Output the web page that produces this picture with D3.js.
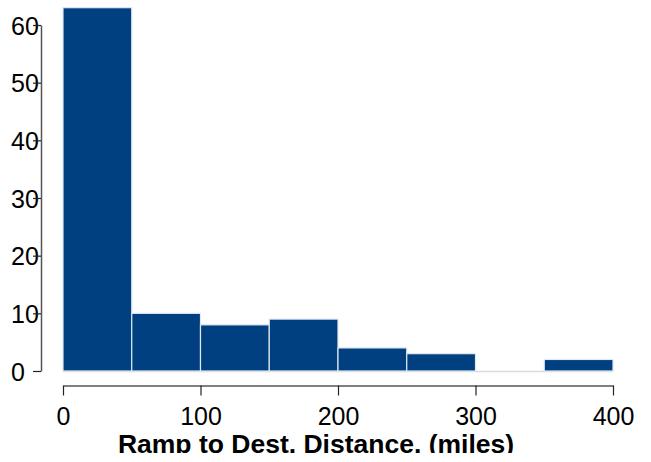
<!DOCTYPE html>
<html><head><meta charset="utf-8">
<script src="https://cdn.jsdelivr.net/npm/d3@7"></script>
<style>body{margin:0;background:#fff}svg{display:block}</style>
</head><body>
<script>
const binStarts = [0, 50, 100, 150, 200, 250, 300, 350];
const binWidth = 50;
const counts = [63, 10, 8, 9, 4, 3, 0, 2];
const xTicks = [0, 100, 200, 300, 400];
const yTicks = [0, 10, 20, 30, 40, 50, 60];
const xTitle = "Ramp to Dest. Distance. (miles)";

const W = 651, H = 453;
const svg = d3.select("body").append("svg").attr("width", W).attr("height", H)
  .style("font-family", "'Liberation Sans', Arial, sans-serif");
const x = d3.scaleLinear().domain([0, 400]).range([63, 613]);
const y = d3.scaleLinear().domain([0, 60]).range([371, 25]);

// zero baseline
svg.append("line").attr("x1", x(0)).attr("x2", x(400)).attr("y1", y(0)+0.5).attr("y2", y(0)+0.5)
  .attr("stroke", "#dcdcdc").attr("stroke-width", 1.5);

svg.selectAll("rect.bar").data(binStarts).enter().append("rect")
  .attr("x", d => x(d)).attr("width", d => x(d + binWidth) - x(d))
  .attr("y", (d, i) => y(counts[i])).attr("height", (d, i) => y(0) - y(counts[i]))
  .attr("fill", "#003f80").attr("stroke", "#dfe8f3").attr("stroke-width", 1.2);

// y axis
const ya = svg.append("g").attr("transform", "translate(41,0)")
  .call(d3.axisLeft(y).tickValues(yTicks).tickSize(8).tickSizeOuter(0));
ya.select(".domain").attr("stroke", "#555").attr("stroke-width", 1.5);
ya.selectAll(".tick line").attr("stroke", "#222").attr("stroke-width", 1.2);
ya.selectAll(".tick text").attr("font-size", 25).attr("fill", "#000").attr("text-anchor", "start")
  .attr("x", -30).attr("dy", "0.36em").style("font-family", "'Liberation Sans', Arial, sans-serif");
ya.selectAll(".tick line").raise();

// x axis
const xa = svg.append("g").attr("transform", "translate(0,385.5)")
  .call(d3.axisBottom(x).tickValues(xTicks).tickSize(10).tickPadding(12).tickSizeOuter(0));
xa.select(".domain").attr("stroke", "#555").attr("stroke-width", 1.5);
xa.selectAll(".tick line").attr("stroke", "#222").attr("stroke-width", 1.2);
xa.selectAll(".tick text").attr("font-size", 25).attr("fill", "#000")
  .style("font-family", "'Liberation Sans', Arial, sans-serif");

svg.append("text").attr("x", 316).attr("y", 453).attr("text-anchor", "middle")
  .attr("font-size", 26.5).attr("font-weight", "bold").text(xTitle);
</script>
</body></html>
